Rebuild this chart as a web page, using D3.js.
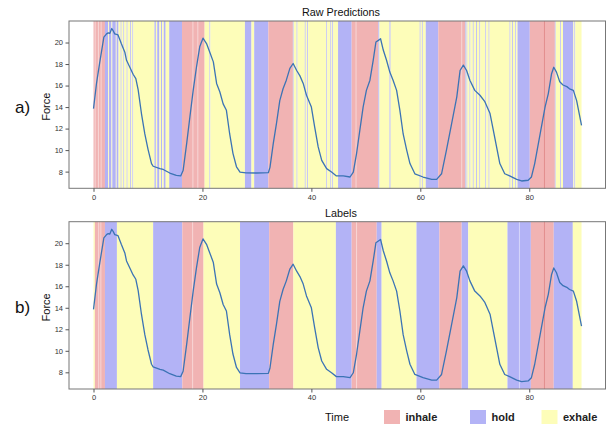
<!DOCTYPE html>
<html>
<head>
<meta charset="utf-8">
<script src="https://cdn.jsdelivr.net/npm/d3@7"></script>
<style>
  html, body { margin: 0; padding: 0; background: #fff; }
  svg { display: block; font-family: "Liberation Sans", Arial, sans-serif; }
</style>
</head>
<body>
<svg id="chart" width="607" height="425"></svg>
<script>
// ---------------- data ----------------
const time = [0,0.55,1.16,1.9,2.4,2.7,3.0,3.35,3.6,3.9,4.5,5.1,5.75,6.06,6.67,7.27,7.77,8.2,8.8,9.42,10.0,10.65,10.95,12.2,12.8,14.0,15.2,16.0,16.45,17.1,17.7,18.3,18.9,19.5,20.1,20.75,21.35,22.0,22.6,23.2,23.8,24.4,25.0,25.6,26.25,26.9,28,30,32.1,32.4,33.0,33.6,34.2,34.8,35.4,36.05,36.65,37.3,37.9,38.5,39.1,40.0,40.6,41.25,41.9,42.8,43.7,44.6,45.85,47.1,47.7,48.3,48.9,49.5,50.1,50.75,51.35,51.85,52.3,52.7,53.2,53.8,54.4,55.0,55.65,56.25,56.85,57.5,58.1,59.0,60.5,62.1,63.0,63.9,64.8,65.75,66.7,67.3,67.9,68.5,69.1,70.0,70.95,71.85,72.8,73.4,74.0,74.6,75.5,76.4,77.7,78.6,79.8,80.4,81.0,82.0,82.9,83.5,84.1,84.5,85.0,85.6,86.2,86.9,87.4,88.1,88.7,89.6];
const force = [13.85,16.2,18.2,20.5,20.8,20.9,20.85,21.3,21.1,20.8,20.7,19.9,19.1,18.35,17.7,17.05,16.65,15.6,13.4,11.5,10.1,8.75,8.5,8.28,8.2,7.87,7.65,7.6,8.1,10.6,13.1,15.55,17.7,19.6,20.4,19.9,19.1,18.2,16.2,15.4,14.3,13.7,11.5,9.7,8.45,7.95,7.88,7.87,7.9,8.4,10.6,12.5,14.6,15.7,16.5,17.6,18.05,17.4,16.9,16.2,15.1,14.0,12.15,10.3,9.05,8.28,7.96,7.6,7.6,7.5,7.96,9.7,11.85,14.0,15.55,16.5,18.35,20.05,20.2,20.35,19.3,18.35,17.25,16.5,15.55,13.7,11.5,10.0,8.75,7.8,7.5,7.28,7.28,7.8,10.0,12.45,14.95,17.4,17.9,17.4,16.5,15.55,15.1,14.5,13.4,11.85,10.3,8.75,7.8,7.6,7.28,7.13,7.2,7.5,8.75,11.5,14.0,15.25,17.1,17.7,17.25,16.35,16.05,15.9,15.7,15.55,14.6,12.3];

// Raw predictions: segment boundaries and phase of each segment
const predEdges = [0,2.1,2.7,2.85,3.3,3.45,4.1,4.25,4.6,5.0,5.15,5.5,5.65,6.1,6.25,6.75,6.9,7.15,7.3,11.2,11.45,11.7,12.1,12.4,12.6,12.9,13.25,13.9,16.25,20.4,21.3,21.45,27.8,29.0,29.5,32.1,36.6,36.75,37.3,37.45,38.8,38.95,39.25,39.4,42.75,42.9,43.5,43.65,43.85,44.0,44.9,47.4,52.3,52.5,54.35,54.55,59.9,60.05,60.3,60.45,61.0,63.3,68.2,68.35,68.5,68.65,69.05,69.2,69.65,69.8,70.25,70.4,70.85,71.0,71.95,72.1,72.55,72.7,76.4,76.55,76.85,77.0,77.45,77.6,77.85,80.1,84.7,84.85,85.7,85.85,86.2,88.1,88.3,88.45,89.6];
const predPhases = ["inhale","hold","exhale","hold","exhale","hold","exhale","hold","exhale","hold","exhale","hold","exhale","hold","exhale","hold","exhale","hold","exhale","hold","exhale","hold","exhale","hold","exhale","hold","exhale","hold","inhale","exhale","hold","exhale","hold","exhale","hold","inhale","hold","exhale","hold","exhale","hold","exhale","hold","exhale","hold","exhale","hold","exhale","hold","exhale","hold","inhale","hold","exhale","hold","exhale","hold","exhale","hold","exhale","hold","inhale","hold","exhale","hold","exhale","hold","exhale","hold","exhale","hold","exhale","hold","exhale","hold","exhale","hold","exhale","hold","exhale","hold","exhale","hold","exhale","hold","inhale","hold","exhale","hold","exhale","hold","exhale","hold","exhale"];
const predSeams = [0.3,0.9,1.4,18.25,19.15,48.2,67.6];

// Labels: segment boundaries and phases
const labelEdges = [0,0.25,2.1,4.3,10.95,16.3,20.2,26.9,32.25,36.7,44.5,47.4,52.0,52.9,59.3,63.5,67.6,68.8,76.0,80.3,84.5,88.0,89.6];
const labelPhases = ["exhale","inhale","hold","exhale","hold","inhale","exhale","hold","inhale","exhale","hold","inhale","hold","exhale","hold","inhale","hold","exhale","hold","inhale","hold","exhale"];
const labelSeams = [0.95,1.35,18.2,48.3,78.2];
const darkLines = [82.8];

const xTicks = [0,20,40,60,80];
const yTicks = [8,10,12,14,16,18,20];
const phases = ["inhale","hold","exhale"];
const phaseColors = ["#f1b3b3","#b3b3f6","#fdfdb9"];
const panelTitles = ["Raw Predictions","Labels"];
const panelTags = ["a)","b)"];

// ---------------- drawing ----------------
const svg = d3.select("#chart");
const color = d3.scaleOrdinal().domain(phases).range(phaseColors);
const x = d3.scaleLinear().domain([-4.5, 94.0]).range([69, 605.5]);

const panels = [
  {top: 21, bottom: 188.3, edges: predEdges, phases: predPhases, seams: predSeams},
  {top: 221.7, bottom: 389, edges: labelEdges, phases: labelPhases, seams: labelSeams}
];

panels.forEach((p, i) => {
  const y = d3.scaleLinear().domain([6.45, 22.0]).range([p.bottom, p.top]);
  const g = svg.append("g");

  const segs = p.phases.map((ph, k) => ({x0: p.edges[k], x1: p.edges[k + 1], ph}));
  g.selectAll("rect.seg").data(segs).join("rect")
    .attr("class", "seg")
    .attr("x", d => x(d.x0))
    .attr("width", d => Math.max(0, x(d.x1) - x(d.x0)))
    .attr("y", p.top)
    .attr("height", p.bottom - p.top)
    .attr("fill", d => color(d.ph));

  g.selectAll("line.seam").data(p.seams).join("line")
    .attr("class", "seam")
    .attr("x1", d => x(d)).attr("x2", d => x(d))
    .attr("y1", p.top).attr("y2", p.bottom)
    .attr("stroke", "#fff").attr("stroke-opacity", 0.6).attr("stroke-width", 0.8);

  g.selectAll("line.dark").data(darkLines).join("line")
    .attr("class", "dark")
    .attr("x1", d => x(d)).attr("x2", d => x(d))
    .attr("y1", p.top).attr("y2", p.bottom)
    .attr("stroke", "#e08585").attr("stroke-width", 0.8);

  const line = d3.line().x((d, k) => x(time[k])).y(d => y(d));
  g.append("path").datum(force)
    .attr("d", line)
    .attr("fill", "none")
    .attr("stroke", "#3b73b5")
    .attr("stroke-width", 1.3)
    .attr("stroke-linejoin", "round");

  // frame
  g.append("rect")
    .attr("x", 69).attr("y", p.top)
    .attr("width", 605.5 - 69).attr("height", p.bottom - p.top)
    .attr("fill", "none").attr("stroke", "#777").attr("stroke-width", 1);

  const xAxis = d3.axisBottom(x).tickValues(xTicks).tickSize(3.5).tickPadding(2.5);
  const gx = g.append("g").attr("transform", `translate(0,${p.bottom})`).call(xAxis);
  const yAxis = d3.axisLeft(y).tickValues(yTicks).tickSize(3.5).tickPadding(2.5);
  const gy = g.append("g").attr("transform", "translate(69,0)").call(yAxis);
  [gx, gy].forEach(a => {
    a.select(".domain").remove();
    a.selectAll(".tick line").attr("stroke", "#555");
    a.selectAll(".tick text").attr("fill", "#333").style("font-size", "7.5px")
      .style("font-family", "'Liberation Sans', Arial, sans-serif");
  });

  g.append("text")
    .attr("x", 341).attr("y", p.top - 5)
    .attr("text-anchor", "middle")
    .style("font-size", "10.8px").attr("fill", "#111")
    .text(panelTitles[i]);

  g.append("text")
    .attr("transform", `translate(50,${(p.top + p.bottom) / 2 + 2}) rotate(-90)`)
    .attr("text-anchor", "middle")
    .style("font-size", "11px").attr("fill", "#111")
    .text("Force");

  g.append("text")
    .attr("x", 15).attr("y", (p.top + p.bottom) / 2 + 8)
    .style("font-size", "17px").attr("fill", "#111")
    .text(panelTags[i]);
});

// legend
const lg = svg.append("g");
lg.append("text").attr("x", 325).attr("y", 421)
  .style("font-size", "11px").attr("fill", "#111").text("Time");
const legX = [384, 470, 541.5];
phases.forEach((ph, k) => {
  lg.append("rect").attr("x", legX[k]).attr("y", 410).attr("width", 16).attr("height", 14)
    .attr("fill", color(ph));
  lg.append("text").attr("x", legX[k] + 21.5).attr("y", 421)
    .style("font-size", "11px").style("font-weight", "bold").attr("fill", "#222").text(ph);
});
</script>
</body>
</html>
